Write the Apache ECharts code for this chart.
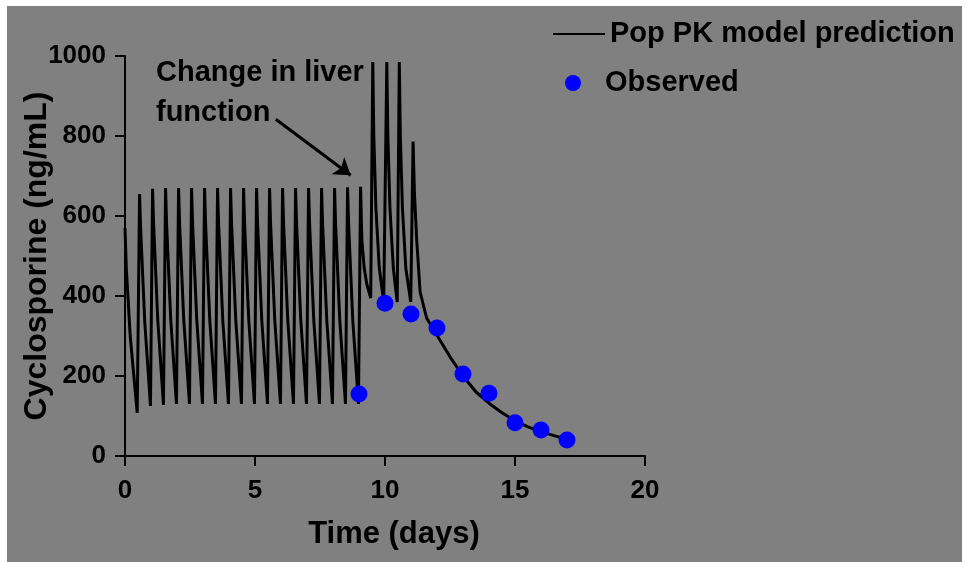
<!DOCTYPE html>
<html>
<head>
<meta charset="utf-8">
<title>Cyclosporine</title>
<script src="https://cdn.jsdelivr.net/npm/echarts@6/dist/echarts.min.js"></script>
<style>
  html, body { margin: 0; padding: 0; background: #ffffff; }
  #chart { position: absolute; left: 7px; top: 6px; width: 955px; height: 556px; }
</style>
</head>
<body>
<div id="chart"></div>
<script>
// model prediction [day, ng/mL]
var predPoints = [
  [0, 570], [0.05, 470], [0.2, 300], [0.47, 108],
  [0.56, 655], [0.6, 570], [0.76, 335], [0.98, 125],
  [1.06, 668], [1.1, 580], [1.26, 340], [1.48, 128],
  [1.56, 670], [1.6, 580], [1.76, 340], [1.98, 130],
  [2.06, 670], [2.1, 580], [2.26, 340], [2.48, 130],
  [2.56, 670], [2.6, 580], [2.76, 340], [2.98, 130],
  [3.06, 670], [3.1, 580], [3.26, 340], [3.48, 130],
  [3.56, 670], [3.6, 580], [3.76, 340], [3.98, 130],
  [4.06, 670], [4.1, 580], [4.26, 340], [4.48, 130],
  [4.56, 670], [4.6, 580], [4.76, 340], [4.98, 130],
  [5.06, 670], [5.1, 580], [5.26, 340], [5.48, 130],
  [5.56, 670], [5.6, 580], [5.76, 340], [5.98, 130],
  [6.06, 670], [6.1, 580], [6.26, 340], [6.48, 130],
  [6.56, 670], [6.6, 580], [6.76, 340], [6.98, 130],
  [7.06, 670], [7.1, 580], [7.26, 340], [7.48, 130],
  [7.56, 670], [7.6, 580], [7.76, 340], [7.98, 130],
  [8.06, 670], [8.1, 580], [8.26, 340], [8.48, 130],
  [8.56, 672], [8.6, 580], [8.76, 340], [8.98, 130],
  [9.06, 673], [9.11, 540], [9.2, 470], [9.3, 430], [9.45, 395],
  [9.53, 985], [9.57, 800], [9.65, 620], [9.78, 470], [9.95, 385],
  [10.07, 985], [10.11, 800], [10.19, 620], [10.32, 470], [10.47, 385],
  [10.55, 985], [10.59, 800], [10.67, 620], [10.8, 470], [10.99, 385],
  [11.08, 786], [11.13, 660], [11.22, 540], [11.35, 410], [11.6, 345],
  [12, 302], [12.5, 248], [13, 200], [13.5, 160], [14, 132], [14.5, 108],
  [15, 88], [15.5, 73], [16, 61], [16.5, 51], [17, 42], [17.1, 40]
];

// observed concentrations
var obsDay = [9, 10, 11, 12, 13, 14, 15, 16, 17];
var obsConc = [155, 382, 355, 320, 205, 157, 83, 65, 40];

// annotation arrow ends [day, ng/mL]
var arrowFrom = [5.8, 842];
var arrowTo = [8.68, 702];

var font = "'Liberation Sans', Arial, sans-serif";
var legendText = { fontFamily: font, fontSize: 29, fontWeight: 'bold', color: '#000', lineHeight: 32 };

var chart = echarts.init(document.getElementById('chart'));
chart.setOption({
  backgroundColor: '#808080',
  animation: false,
  textStyle: { fontFamily: font, color: '#000' },
  grid: { left: 118, top: 50, width: 520, height: 400, outerBoundsMode: 'none', containLabel: false },
  legend: [{
    left: 546,
    top: 12,
    padding: 0,
    itemWidth: 52,
    itemHeight: 16,
    textStyle: legendText,
    data: [{ name: 'Pop PK model prediction', icon: 'path://M0,0H52V2H0Z' }]
  }, {
    left: 558,
    top: 61,
    padding: 0,
    itemWidth: 16,
    itemHeight: 16,
    textStyle: Object.assign({ padding: [0, 0, 0, 19] }, legendText),
    data: [{ name: 'Observed', icon: 'circle' }]
  }],
  xAxis: {
    type: 'value',
    min: 0,
    max: 20,
    interval: 5,
    name: 'Time (days)',
    nameLocation: 'middle',
    nameGap: 63,
    nameMoveOverlap: false,
    nameTextStyle: { fontFamily: font, fontSize: 31, fontWeight: 'bold', color: '#000', padding: [0, 0, 0, 18] },
    axisLine: { lineStyle: { color: '#000', width: 2 } },
    axisTick: { length: 10, lineStyle: { color: '#000', width: 2 } },
    axisLabel: { margin: 22, fontFamily: font, fontSize: 26, fontWeight: 'bold', color: '#000' },
    splitLine: { show: false }
  },
  yAxis: {
    type: 'value',
    min: 0,
    max: 1000,
    interval: 200,
    name: 'Cyclosporine (ng/mL)',
    nameLocation: 'middle',
    nameGap: 72,
    nameMoveOverlap: false,
    nameTextStyle: { fontFamily: font, fontSize: 32, fontWeight: 'bold', color: '#000' },
    axisLine: { show: true, lineStyle: { color: '#000', width: 2 } },
    axisTick: { show: true, length: 10, lineStyle: { color: '#000', width: 2 } },
    axisLabel: {
      margin: 19, fontFamily: font, fontSize: 26, fontWeight: 'bold', color: '#000',
      formatter: function (v) { return String(v); }
    },
    splitLine: { show: false }
  },
  graphic: [{
    type: 'text',
    left: 149,
    top: 47,
    style: {
      text: 'Change in liver\nfunction',
      font: 'bold 29px ' + font,
      lineHeight: 40,
      fill: '#000'
    }
  }],
  series: [{
    name: 'Pop PK model prediction',
    type: 'line',
    symbol: 'none',
    lineStyle: { color: '#000', width: 3 },
    itemStyle: { color: '#000' },
    data: predPoints,
    markLine: {
      silent: true,
      symbol: ['none', 'arrow'],
      symbolSize: 16,
      label: { show: false },
      lineStyle: { color: '#000', width: 3, type: 'solid' },
      data: [[{ coord: arrowFrom }, { coord: arrowTo }]]
    }
  }, {
    name: 'Observed',
    type: 'scatter',
    symbol: 'circle',
    symbolSize: 17,
    itemStyle: { color: '#0000ff', opacity: 1 },
    z: 3,
    data: obsDay.map(function (d, i) { return [d, obsConc[i]]; })
  }]
});
</script>
</body>
</html>
